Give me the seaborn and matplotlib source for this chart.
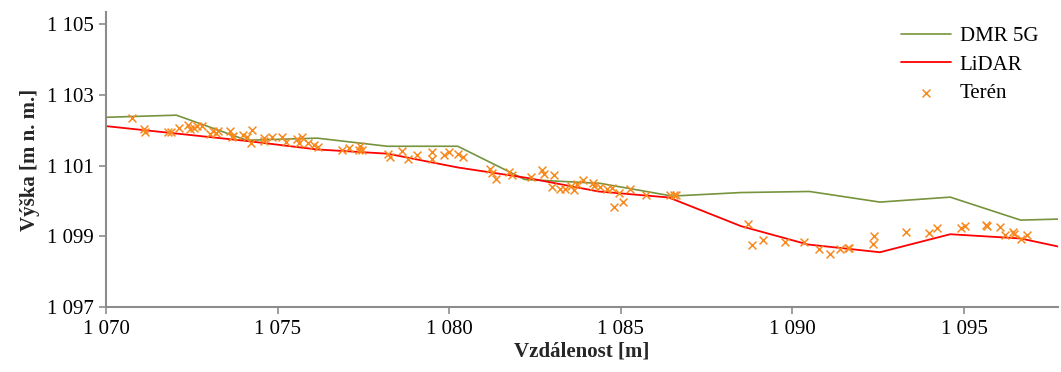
import matplotlib
matplotlib.use("Agg")
import matplotlib.pyplot as plt
from matplotlib.ticker import FuncFormatter, FixedLocator
import seaborn as sns
import pandas as pd

# --- data ---
dmr_x = [1070.0, 1072.05, 1074.1, 1076.15, 1078.2, 1080.25, 1082.2, 1084.4,
         1086.5, 1088.5, 1090.5, 1092.55, 1094.6, 1096.65, 1097.8]
dmr_y = [1102.37, 1102.43, 1101.72, 1101.78, 1101.55, 1101.55, 1100.61, 1100.50,
         1100.14, 1100.24, 1100.27, 1099.97, 1100.11, 1099.46, 1099.49]

lidar_x = [1070.0, 1072.05, 1074.1, 1076.15, 1078.2, 1080.25, 1082.3, 1084.35,
           1086.4, 1088.5, 1090.45, 1092.55, 1094.6, 1096.65, 1097.8]
lidar_y = [1102.12, 1101.91, 1101.70, 1101.46, 1101.34, 1100.95, 1100.65, 1100.27,
           1100.10, 1099.29, 1098.77, 1098.55, 1099.06, 1098.94, 1098.70]

teren_x = [1070.75, 1071.12, 1071.14, 1071.82, 1071.90, 1072.13, 1072.38, 1072.45,
           1072.57, 1072.64, 1072.79, 1073.02, 1073.13, 1073.21, 1073.27, 1073.62,
           1073.67, 1073.71, 1074.00, 1074.10, 1074.25, 1074.22, 1074.59, 1074.59,
           1074.83, 1075.12, 1075.25, 1075.56, 1075.61, 1075.71, 1075.90, 1076.06,
           1076.17, 1076.87, 1077.07, 1077.36, 1077.41, 1077.45, 1078.23, 1078.28,
           1078.62, 1078.81, 1079.06, 1079.50, 1079.50, 1079.85, 1079.98, 1080.27,
           1080.40, 1081.20, 1081.24, 1081.36, 1081.73, 1081.83, 1082.37, 1082.70,
           1082.77, 1083.06, 1082.99, 1083.24, 1083.38, 1083.54, 1083.63, 1083.73,
           1083.89, 1084.18, 1084.23, 1084.40, 1084.61, 1084.75, 1084.94, 1084.81,
           1085.06, 1085.28, 1085.74, 1086.44, 1086.55, 1086.62, 1088.72, 1088.83,
           1089.13, 1089.78, 1090.35, 1090.77, 1091.09, 1091.38, 1091.62, 1091.65,
           1092.37, 1092.34, 1093.31, 1093.97, 1094.22, 1094.90, 1095.03, 1095.63,
           1095.66, 1096.04, 1096.19, 1096.43, 1096.47, 1096.65, 1096.85]
teren_y = [1102.35, 1102.05, 1101.95, 1101.94, 1101.94, 1102.06, 1102.16, 1102.03,
           1102.06, 1102.12, 1102.11, 1101.89, 1101.97, 1101.92, 1101.97, 1101.97,
           1101.80, 1101.84, 1101.88, 1101.80, 1102.00, 1101.65, 1101.77, 1101.69,
           1101.80, 1101.81, 1101.67, 1101.76, 1101.64, 1101.80, 1101.64, 1101.58,
           1101.53, 1101.45, 1101.51, 1101.44, 1101.56, 1101.45, 1101.33, 1101.24,
           1101.41, 1101.18, 1101.31, 1101.39, 1101.18, 1101.31, 1101.38, 1101.32,
           1101.25, 1100.90, 1100.78, 1100.62, 1100.82, 1100.73, 1100.68, 1100.87,
           1100.77, 1100.73, 1100.41, 1100.34, 1100.35, 1100.42, 1100.31, 1100.49,
           1100.59, 1100.52, 1100.42, 1100.40, 1100.33, 1100.36, 1100.22, 1099.82,
           1099.98, 1100.33, 1100.16, 1100.16, 1100.16, 1100.16, 1099.34, 1098.75,
           1098.91, 1098.84, 1098.84, 1098.63, 1098.50, 1098.63, 1098.68, 1098.67,
           1099.01, 1098.79, 1099.13, 1099.09, 1099.24, 1099.24, 1099.29, 1099.32,
           1099.29, 1099.27, 1099.05, 1099.13, 1099.08, 1098.92, 1099.03]

x_ticks = [1070, 1075, 1080, 1085, 1090, 1095]
y_ticks = [1097, 1099, 1101, 1103, 1105]

series_names = ["DMR 5G", "LiDAR", "Terén"]
x_title = "Vzdálenost [m]"
y_title = "Výška [m n. m.]"

# --- style ---
sns.set_theme(style="white")
plt.rcParams["font.family"] = ["Liberation Serif", "DejaVu Serif"]

green = "#77933C"
red = "#FF0000"
orange = "#F7891F"
axis_gray = "#8C8C8C"

fig = plt.figure(figsize=(10.61, 3.72), dpi=100)
ax = fig.add_axes([0.0999, 0.1747, 0.8973, 0.793])

dmr = pd.DataFrame({"x": dmr_x, "y": dmr_y})
lid = pd.DataFrame({"x": lidar_x, "y": lidar_y})
ter = pd.DataFrame({"x": teren_x, "y": teren_y})

sns.lineplot(data=dmr, x="x", y="y", ax=ax, color=green, linewidth=1.2,
             label=series_names[0], sort=False)
sns.lineplot(data=lid, x="x", y="y", ax=ax, color=red, linewidth=1.3,
             label=series_names[1], sort=False)
sns.scatterplot(data=ter, x="x", y="y", ax=ax, color=orange, marker="x",
                s=32, linewidth=1.1, label=series_names[2], zorder=3)

ax.set_xlim(1070, 1097.74)
ax.set_ylim(1097, 1105.35)

fmt = FuncFormatter(lambda v, p: f"{int(round(v)):,}".replace(",", " "))
ax.xaxis.set_major_locator(FixedLocator(x_ticks))
ax.yaxis.set_major_locator(FixedLocator(y_ticks))
ax.xaxis.set_major_formatter(fmt)
ax.yaxis.set_major_formatter(fmt)

for side in ["top", "right"]:
    ax.spines[side].set_visible(False)
for side in ["left", "bottom"]:
    ax.spines[side].set_color(axis_gray)
    ax.spines[side].set_linewidth(1.5)

ax.tick_params(axis="both", which="major", direction="out", length=5,
               width=1.2, color=axis_gray, labelsize=15, labelcolor="black",
               left=True, bottom=True, pad=4)

ax.set_xlabel(x_title, fontsize=15, fontweight="bold", labelpad=2)
ax.set_ylabel(y_title, fontsize=15, fontweight="bold", labelpad=5)
ax.grid(False)

leg = ax.legend(loc="upper right", frameon=False, fontsize=15,
                handlelength=2.4, handletextpad=0.4, labelspacing=0.42,
                borderaxespad=0.1, bbox_to_anchor=(0.99, 0.985))
for t in leg.get_texts():
    t.set_color("black")

fig.savefig("out.png", dpi=100)
